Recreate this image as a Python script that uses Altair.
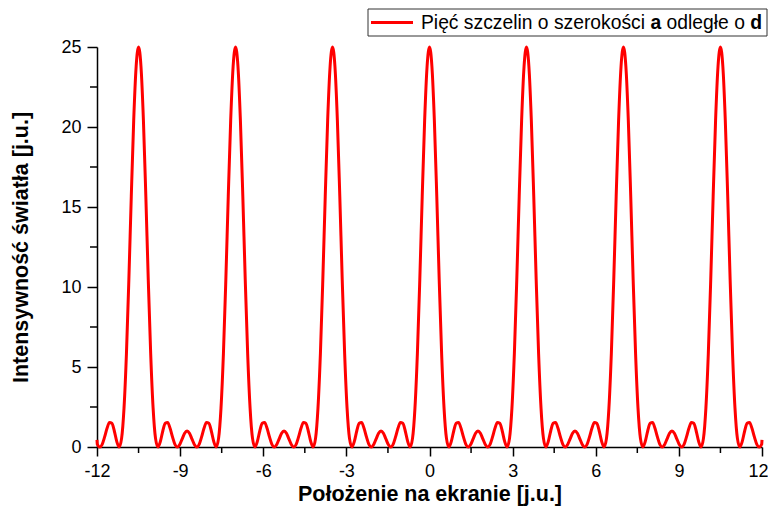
import altair as alt
import pandas as pd

# ---- data ----
peak_positions = [-10.5, -7.0, -3.5, 0.0, 3.5, 7.0, 10.5]
# half-period profile around each principal maximum (offset from peak, intensity)
profile_offsets = [0.0, 0.0875, 0.175, 0.2625, 0.35, 0.4375, 0.525, 0.6125, 0.7,
                   0.7875, 0.875, 0.9625, 1.05, 1.1375, 1.225, 1.3125, 1.4,
                   1.4875, 1.575, 1.6625, 1.75]
profile_intensity = [25.0, 23.78, 20.43, 15.67, 10.47, 5.83, 2.43, 0.54, 0.0,
                     0.35, 1.0, 1.48, 1.53, 1.17, 0.63, 0.17, 0.0,
                     0.16, 0.51, 0.86, 1.0]
edge_x = [-12.0, 12.0]
edge_intensity = [0.45, 0.45]

x_major_ticks = [-12, -9, -6, -3, 0, 3, 6, 9, 12]
x_minor_ticks = [-10.5, -7.5, -4.5, -1.5, 1.5, 4.5, 7.5, 10.5]
y_major_ticks = [0, 5, 10, 15, 20, 25]
y_minor_ticks = [2.5, 7.5, 12.5, 17.5, 22.5]

legend_parts = ["Pięć szczelin o szerokości", "a", "odległe o", "d"]

# ---- build table ----
pts = {}
for c in peak_positions:
    for u, v in zip(profile_offsets, profile_intensity):
        for xx in (c - u, c + u):
            if -12.0 < xx < 12.0:
                pts[round(xx, 4)] = v
for xx, v in zip(edge_x, edge_intensity):
    pts[xx] = v
df = pd.DataFrame(sorted(pts.items()), columns=["x", "y"])

FONT = "Liberation Sans"
XT = "Położenie na ekranie [j.u.]"
YT = "Intensywność światła [j.u.]"

xscale = alt.Scale(domain=[-12, 12], nice=False, zero=False)
yscale = alt.Scale(domain=[0, 25], nice=False, zero=False)

line = alt.Chart(df).mark_line(
    color="#ff0000", strokeWidth=3, interpolate="monotone"
).encode(
    x=alt.X("x:Q", scale=xscale, title=XT, axis=alt.Axis(
        values=x_major_ticks, title=XT, labelFlush=False,
        labelOffset={"condition": {"test": "datum.value == 12", "value": -4}, "value": 0},
        labelExpr="toString(datum.value)", tickSize=9, labelPadding=6,
        titlePadding=3)),
    y=alt.Y("y:Q", scale=yscale, title=YT, axis=alt.Axis(
        values=y_major_ticks, title=YT, labelFlush=False,
        tickSize=10, labelPadding=6, titlePadding=28)),
)

xminor = alt.Chart(pd.DataFrame({"x": x_minor_ticks})).mark_rule(
    color="black", strokeWidth=1.5
).encode(
    x=alt.X("x:Q", scale=xscale, title=XT),
    y=alt.value(400), y2=alt.value(406),
)

yminor = alt.Chart(pd.DataFrame({"y": y_minor_ticks})).mark_rule(
    color="black", strokeWidth=1.5
).encode(
    y=alt.Y("y:Q", scale=yscale, title=YT),
    x=alt.value(-7), x2=alt.value(0),
)

one = pd.DataFrame({"k": [0]})
legend_box = alt.Chart(one).mark_rect(
    fill="white", stroke="#333333", strokeWidth=1
).encode(x=alt.value(271), x2=alt.value(670), y=alt.value(-38), y2=alt.value(-11))

legend_line = alt.Chart(one).mark_rule(color="#ff0000", strokeWidth=3).encode(
    x=alt.value(274), x2=alt.value(316), y=alt.value(-24.5))

def seg(text, xpos, bold):
    return alt.Chart(pd.DataFrame({"t": [text]})).mark_text(
        align="left", baseline="middle", font=FONT, fontSize=19.3,
        fontWeight="bold" if bold else "normal", color="black"
    ).encode(x=alt.value(xpos), y=alt.value(-24), text="t:N")

legend_texts = [
    seg(legend_parts[0], 324, False),
    seg(legend_parts[1], 553.5, True),
    seg(legend_parts[2], 569.6, False),
    seg(legend_parts[3], 653.3, True),
]

chart = alt.layer(line, xminor, yminor, legend_box, legend_line, *legend_texts).properties(
    width=665, height=400,
    autosize=alt.AutoSizeParams(type="none"),
    padding={"left": 89, "top": 39, "right": 6, "bottom": 60},
).configure_view(stroke=None).configure_axis(
    grid=False, domainColor="black", domainWidth=1.5, tickColor="black", tickWidth=1.5,
    labelColor="black", titleColor="black", labelFont=FONT, titleFont=FONT,
    labelFontSize=18, titleFontSize=21.5, titleFontWeight="bold",
)

chart.save("out.html", embed_options={"renderer": "svg", "actions": False})
